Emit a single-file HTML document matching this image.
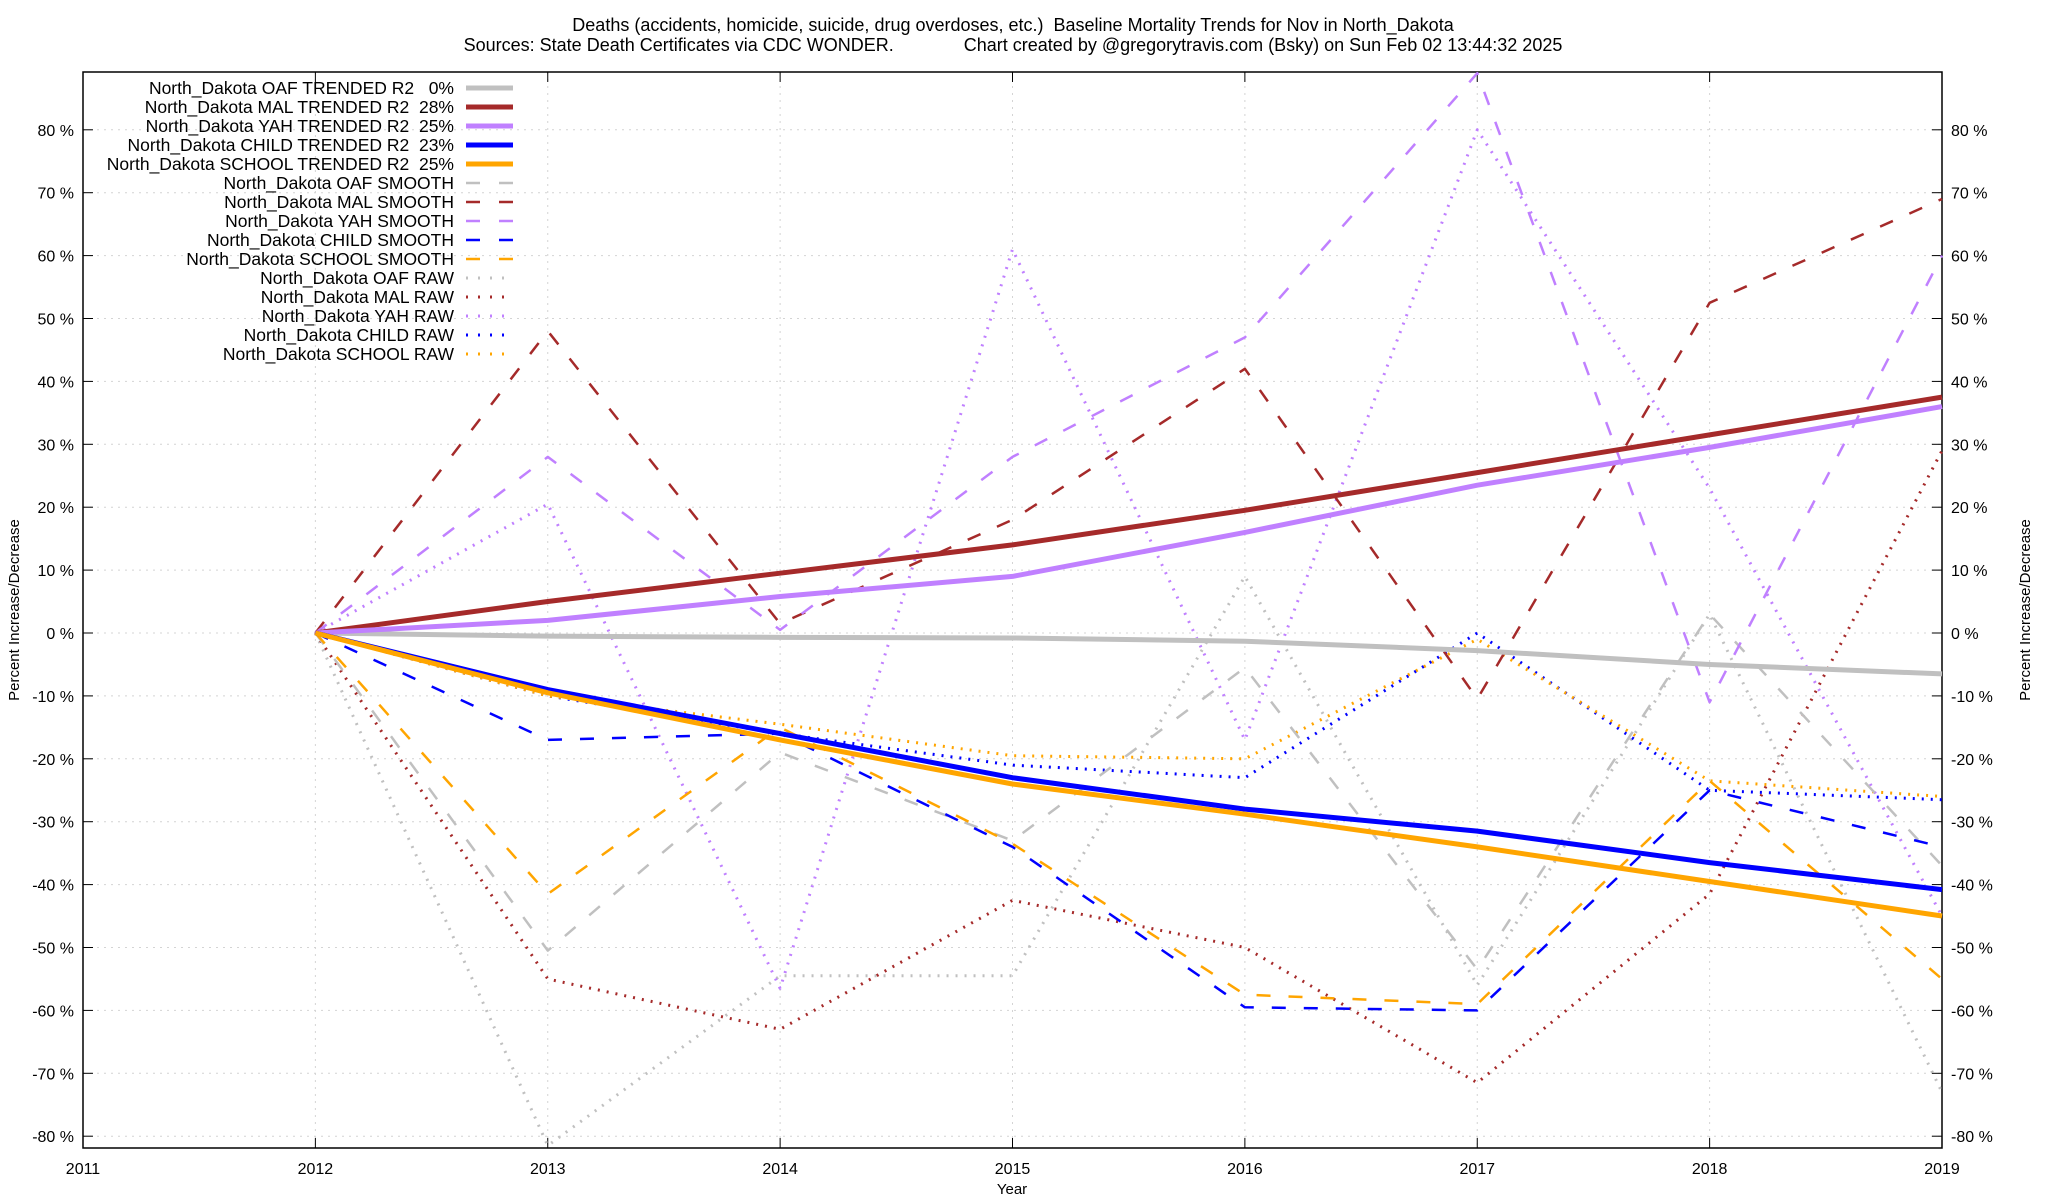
<!DOCTYPE html>
<html><head><meta charset="utf-8"><style>
html,body{margin:0;padding:0;background:#fff;}
svg{display:block;font-family:"Liberation Sans",Arial,sans-serif;}
text{white-space:pre;}
</style></head><body>
<svg id="chart" width="2048" height="1200" viewBox="0 0 2048 1200" xmlns="http://www.w3.org/2000/svg">
<text x="1013" y="31" font-size="18" text-anchor="middle">Deaths (accidents, homicide, suicide, drug overdoses, etc.)  Baseline Mortality Trends for Nov in North_Dakota</text>
<text x="1013" y="51" font-size="18" text-anchor="middle">Sources: State Death Certificates via CDC WONDER.              Chart created by @gregorytravis.com (Bsky) on Sun Feb 02 13:44:32 2025</text>
<g id="grid"></g>
<g id="axes"></g>
<g id="series"></g>
<g id="legend"></g>
<text x="1012" y="1194" font-size="15" text-anchor="middle">Year</text>
<text transform="translate(19,610) rotate(-90)" font-size="15" text-anchor="middle">Percent Increase/Decrease</text>
<text transform="translate(2030,610) rotate(-90)" font-size="15" text-anchor="middle">Percent Increase/Decrease</text>
</svg>
<script>
const xTicks = [2011,2012,2013,2014,2015,2016,2017,2018,2019];
const yTicks = [-80,-70,-60,-50,-40,-30,-20,-10,0,10,20,30,40,50,60,70,80];
const years = [2012,2013,2014,2015,2016,2017,2018,2019];
const oafTrend = [0,-0.5,-0.7,-0.8,-1.3,-2.8,-5,-6.5];
const malTrend = [0,5,9.5,14,19.5,25.5,31.5,37.5];
const yahTrend = [0,2,5.8,9,16,23.5,29.5,36];
const childTrend = [0,-9,-16,-23,-28,-31.5,-36.5,-40.8];
const schoolTrend = [0,-9.5,-17,-24,-28.8,-34,-39.5,-45];
const oafSmooth = [0,-50.5,-19,-33,-5.5,-53.5,3,-37];
const malSmooth = [0,48,1.5,18,42,-10.5,52.5,69];
const yahSmooth = [0,28,0.5,28,47,89,-11,60];
const childSmooth = [0,-17,-16,-34,-59.5,-60,-25,-34];
const schoolSmooth = [0,-41.5,-15,-33.5,-57.5,-59,-23.5,-55];
const oafRaw = [0,-81.5,-54.5,-54.5,9,-56,3,-73];
const malRaw = [0,-55,-63,-42.5,-50,-71.5,-41.5,29];
const yahRaw = [0,20.5,-56.5,61,-17,80,23,-45];
const childRaw = [0,-10,-16,-21,-23,0,-25,-26.5];
const schoolRaw = [0,-10,-14.5,-19.5,-20,-1,-23.5,-26];

const L=83,R=1942,T=72,B=1148;
const X0=2011,X1=2019;
function xs(v){return L+(v-X0)/(X1-X0)*(R-L);}
function ys(v){return 633-v*6.29;}
const NS="http://www.w3.org/2000/svg";
function mk(tag,attrs,parent){const e=document.createElementNS(NS,tag);for(const k in attrs)e.setAttribute(k,attrs[k]);parent.appendChild(e);return e;}
const grid=document.getElementById('grid'),axes=document.getElementById('axes'),ser=document.getElementById('series'),leg=document.getElementById('legend');

yTicks.forEach(v=>{
  const y=ys(v);
  const g=mk('line',{x1:L,x2:R,y1:y,y2:y,stroke:'#d4d4d4','stroke-width':1,'stroke-dasharray':'2,5'},grid);
  
  
  mk('line',{x1:L,x2:L+10,y1:y,y2:y,stroke:'#000'},axes);
  mk('line',{x1:R-10,x2:R,y1:y,y2:y,stroke:'#000'},axes);
  const t1=mk('text',{x:74,y:y+6,'font-size':16,'text-anchor':'end'},axes);t1.textContent=v+' %';
  
  
  const t2=mk('text',{x:1951,y:y+6,'font-size':16},axes);t2.textContent=v+' %';
  
  
});
xTicks.forEach(v=>{
  const x=xs(v);
  const g=mk('line',{x1:x,x2:x,y1:T,y2:B,stroke:'#d4d4d4','stroke-width':1,'stroke-dasharray':'2,5'},grid);
  
  
  mk('line',{x1:x,x2:x,y1:B,y2:B-10,stroke:'#000'},axes);
  mk('line',{x1:x,x2:x,y1:T,y2:T+10,stroke:'#000'},axes);
  const t=mk('text',{x:x,y:1174,'font-size':16,'text-anchor':'middle'},axes);t.textContent=v;
  
  
});
const frame=mk('rect',{x:L,y:T,width:R-L,height:B-T,fill:'none',stroke:'#000','stroke-width':1.5},axes);



const GRAY='#c0c0c0',RED='#a52a2a',PUR='#c080ff',BLUE='#0000ff',ORG='#ffa500';
const DASH='14,18',DOT='2,7';
const series=[
 ['North_Dakota OAF TRENDED R2   0%',oafTrend,GRAY,5,null,'oaf-trend'],
 ['North_Dakota MAL TRENDED R2  28%',malTrend,RED,5,null,'mal-trend'],
 ['North_Dakota YAH TRENDED R2  25%',yahTrend,PUR,5,null,'yah-trend'],
 ['North_Dakota CHILD TRENDED R2  23%',childTrend,BLUE,5,null,'child-trend'],
 ['North_Dakota SCHOOL TRENDED R2  25%',schoolTrend,ORG,5,null,'school-trend'],
 ['North_Dakota OAF SMOOTH',oafSmooth,GRAY,2.5,DASH,'oaf-smooth'],
 ['North_Dakota MAL SMOOTH',malSmooth,RED,2.5,DASH,'mal-smooth'],
 ['North_Dakota YAH SMOOTH',yahSmooth,PUR,2.5,DASH,'yah-smooth'],
 ['North_Dakota CHILD SMOOTH',childSmooth,BLUE,2.5,DASH,'child-smooth'],
 ['North_Dakota SCHOOL SMOOTH',schoolSmooth,ORG,2.5,DASH,'school-smooth'],
 ['North_Dakota OAF RAW',oafRaw,GRAY,3,DOT,'oaf-raw'],
 ['North_Dakota MAL RAW',malRaw,RED,3,DOT,'mal-raw'],
 ['North_Dakota YAH RAW',yahRaw,PUR,3,DOT,'yah-raw'],
 ['North_Dakota CHILD RAW',childRaw,BLUE,3,DOT,'child-raw'],
 ['North_Dakota SCHOOL RAW',schoolRaw,ORG,3,DOT,'school-raw']
];
[10,11,12,13,14,5,6,7,8,9,0,1,2,3,4].forEach(i=>{
  const s=series[i];
  const pts=s[1].map((v,j)=>xs(years[j]).toFixed(1)+','+ys(v).toFixed(1)).join(' ');
  const a={points:pts,fill:'none',stroke:s[2],'stroke-width':s[3],'stroke-linejoin':'round'};
  if(s[4]){a['stroke-dasharray']=s[4];a['stroke-linecap']='butt';}
  const p=mk('polyline',a,ser);
  
  
});
series.forEach((s,i)=>{
  const y=88+i*19;
  const t=mk('text',{x:454,y:y+6,'font-size':17.5,'text-anchor':'end'},leg);
  t.textContent=s[0];
  
  
  const a={x1:466,x2:513,y1:y,y2:y,stroke:s[2],'stroke-width':s[3]};
  if(s[4]===DASH)a['stroke-dasharray']='14,19';
  if(s[4]===DOT)a['stroke-dasharray']='2,10';
  const l=mk('line',a,leg);
  
  
});
</script>
</body></html>
